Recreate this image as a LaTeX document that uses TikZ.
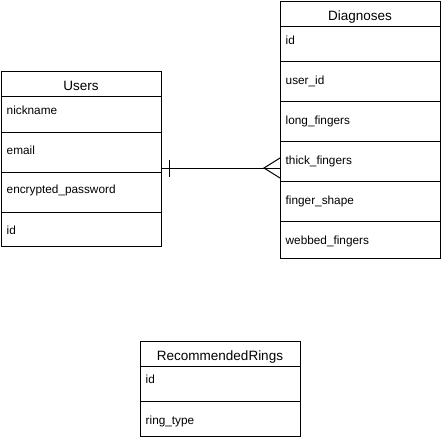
\documentclass[tikz,border=0pt]{standalone}
\usepackage{fontspec}
\setmainfont{Liberation Sans}
\begin{document}
\begin{tikzpicture}[x=1pt,y=-1pt,
  box/.style={draw=black, line width=1pt, minimum width=160pt, inner sep=0pt, outer sep=0pt, anchor=north west},
  field/.style={font=\fontsize{11.8}{14}\selectfont, anchor=base west, inner sep=0pt},
  ttl/.style={font=\fontsize{13.5}{16}\selectfont, anchor=base, inner sep=0pt},
  conn/.style={draw=black, line width=1pt}]
\useasboundingbox (0,0) rectangle (441,440);

% Users
\node[box, minimum height=25pt] (uh) at (1,71) {};
\node[box, minimum height=36pt] (u1) at (1,96) {};
\node[box, minimum height=40pt] (u2) at (1,132) {};
\node[box, minimum height=40pt] (u3) at (1,172) {};
\node[box, minimum height=34pt] (u4) at (1,212) {};
\node[ttl] (uht) at (81,90) {Users};
\node[field] (u1t) at (6.5,114) {nickname};
\node[field] (u2t) at (6.5,154) {email};
\node[field] (u3t) at (6.5,193.5) {encrypted\_password};
\node[field] (u4t) at (6.5,234) {id};

% Diagnoses
\node[box, minimum height=25pt] (dh) at (280,1) {};
\node[box, minimum height=35pt] (d1) at (280,26) {};
\node[box, minimum height=40pt] (d2) at (280,61) {};
\node[box, minimum height=40pt] (d3) at (280,101) {};
\node[box, minimum height=40pt] (d4) at (280,141) {};
\node[box, minimum height=40pt] (d5) at (280,181) {};
\node[box, minimum height=37pt] (d6) at (280,221) {};
\node[ttl] (dht) at (360,20) {Diagnoses};
\node[field] (d1t) at (285.5,44) {id};
\node[field] (d2t) at (285.5,84.5) {user\_id};
\node[field] (d3t) at (285.5,124) {long\_fingers};
\node[field] (d4t) at (285.5,164) {thick\_fingers};
\node[field] (d5t) at (285.5,204) {finger\_shape};
\node[field] (d6t) at (285.5,244) {webbed\_fingers};

% RecommendedRings
\node[box, minimum height=25pt] (rh) at (140,341) {};
\node[box, minimum height=35pt] (r1) at (140,366) {};
\node[box, minimum height=35pt] (r2) at (140,401) {};
\node[ttl] (rht) at (220,360) {RecommendedRings};
\node[field] (r1t) at (145.5,383.5) {id};
\node[field] (r2t) at (145.5,424) {ring\_type};

% relationship
\coordinate (ua) at (u2.east |- 0,168);
\coordinate (da) at (d4.west |- 0,168);
\draw[conn] (ua) -- (da);
\draw[conn] ([xshift=8pt]ua) ++(0,-8.5) -- ++(0,17);
\draw[conn] ([yshift=-10pt]da) -- ([xshift=-16pt]da) -- ([yshift=10pt]da);
\end{tikzpicture}
\end{document}
